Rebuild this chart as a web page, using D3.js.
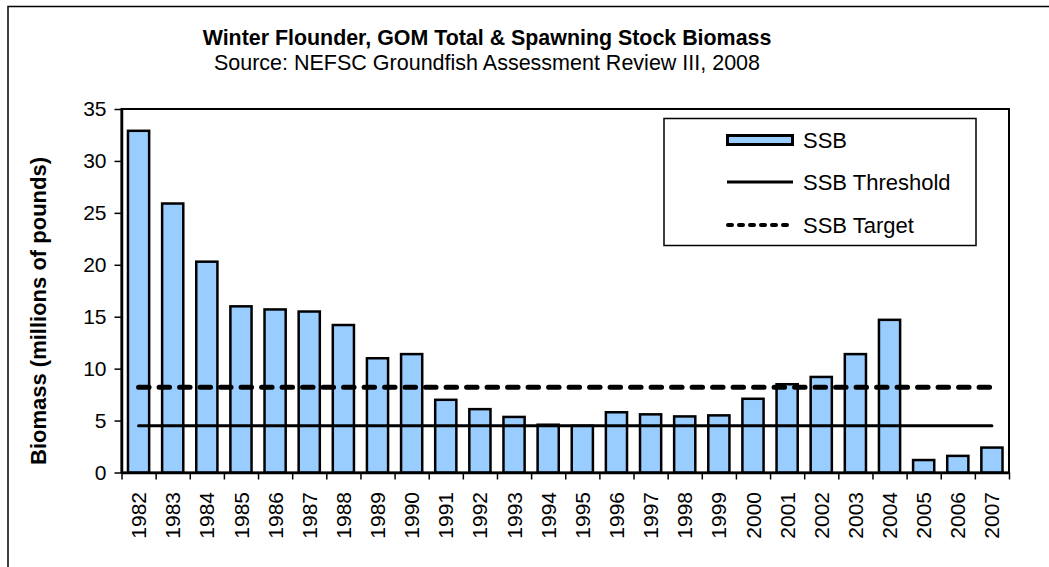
<!DOCTYPE html>
<html><head><meta charset="utf-8">
<script src="https://cdn.jsdelivr.net/npm/d3@7"></script>
<style>body{margin:0;background:#fff}svg{display:block;font-family:Arial,"Liberation Sans",sans-serif}</style>
</head><body><svg id="c" width="1049" height="567"></svg>
<script>
const years = ["1982","1983","1984","1985","1986","1987","1988","1989","1990","1991","1992","1993","1994","1995","1996","1997","1998","1999","2000","2001","2002","2003","2004","2005","2006","2007"];
const ssb = [32.9,25.9,20.3,16.0,15.7,15.5,14.2,11.0,11.4,7.0,6.1,5.35,4.6,4.5,5.8,5.6,5.4,5.5,7.1,8.5,9.2,11.4,14.7,1.2,1.6,2.4];
const threshold = 4.5;
const target = 8.2;
const yTicks = [0,5,10,15,20,25,30,35];
const titleText = "Winter Flounder, GOM Total & Spawning Stock Biomass";
const subtitleText = "Source: NEFSC Groundfish Assessment Review III, 2008";
const yTitle = "Biomass (millions of pounds)";
const legendLabels = ["SSB","SSB Threshold","SSB Target"];

const svg = d3.select("#c");
const m = {left:121.5, right:1009, top:109, bottom:472.5};
const x = d3.scaleBand().domain(years).range([m.left, m.right]).paddingInner(0.38).paddingOuter(0.19);
const xb = d3.scaleLinear().domain([0, years.length]).range([m.left, m.right]);
const y = d3.scaleLinear().domain([0, 35]).range([m.bottom, m.top]);
const blue = "#99CCFF";

// outer chart frame (right/bottom edges outside the picture)
svg.append("rect").attr("x",8).attr("y",6.5).attr("width",1200).attr("height",800)
  .attr("fill","none").attr("stroke","#000").attr("stroke-width",1.5);

// titles
svg.append("text").attr("x",487).attr("y",45).attr("text-anchor","middle")
  .attr("font-weight","bold").attr("font-size",21.4).text(titleText);
svg.append("text").attr("x",487).attr("y",70).attr("text-anchor","middle")
  .attr("font-size",21.5).text(subtitleText);

// plot frame
svg.append("rect").attr("x",m.left).attr("y",m.top).attr("width",m.right-m.left).attr("height",m.bottom-m.top)
  .attr("fill","none").attr("stroke","#000").attr("stroke-width",2);

// bars
svg.append("g").selectAll("rect").data(years).join("rect")
  .attr("x", d => x(d)).attr("width", x.bandwidth())
  .attr("y", (d,i) => y(ssb[i])).attr("height", (d,i) => y(0) - y(ssb[i]))
  .attr("fill", blue).attr("stroke","#000").attr("stroke-width",2.5);

// reference lines
const cx = d => x(d) + x.bandwidth()/2;
const line = d3.line().x(d => cx(d[0])).y(d => y(d[1]));
const ends = [years[0], years[years.length-1]];
svg.append("path").attr("d", line(ends.map(d => [d, threshold])))
  .attr("stroke","#000").attr("stroke-width",3).attr("fill","none").attr("stroke-linecap","round");
svg.append("path").attr("d", line(ends.map(d => [d, target])))
  .attr("stroke","#000").attr("stroke-width",5).attr("fill","none")
  .attr("stroke-linecap","round").attr("stroke-dasharray","10.5,10");

// y axis
const ya = svg.append("g").attr("transform",`translate(${m.left},0)`)
  .call(d3.axisLeft(y).tickValues(yTicks).tickSize(7).tickPadding(8).tickSizeOuter(0));
ya.select(".domain").attr("stroke-width",2.5);
ya.selectAll(".tick line").attr("stroke-width",1.5);
ya.selectAll("text").attr("font-size",21).attr("font-family","Arial, 'Liberation Sans', sans-serif").attr("fill","#000");

// x axis ticks at category boundaries
const xa = svg.append("g").attr("transform",`translate(0,${m.bottom})`)
  .call(d3.axisBottom(xb).tickValues(d3.range(years.length+1)).tickSize(7).tickFormat("").tickSizeOuter(0));
xa.select(".domain").attr("stroke-width",2.5);
xa.selectAll(".tick line").attr("stroke-width",1.5);

// x labels
svg.append("g").selectAll("text").data(years).join("text")
  .attr("transform", d => `translate(${cx(d)},492) rotate(-90)`)
  .attr("text-anchor","end").attr("dy","0.36em").attr("font-size",21).text(d => d);

// y title
svg.append("text").attr("transform","translate(38,311) rotate(-90)")
  .attr("text-anchor","middle").attr("dy","0.36em").attr("font-weight","bold").attr("font-size",22).text(yTitle);

// legend
const lg = svg.append("g");
lg.append("rect").attr("x",664).attr("y",118.5).attr("width",312).attr("height",127)
  .attr("fill","#fff").attr("stroke","#000").attr("stroke-width",1.5);
lg.append("rect").attr("x",727.5).attr("y",135.5).attr("width",65).attr("height",9)
  .attr("fill",blue).attr("stroke","#000").attr("stroke-width",3);
lg.append("line").attr("x1",727).attr("x2",793).attr("y1",182).attr("y2",182)
  .attr("stroke","#000").attr("stroke-width",3);
lg.append("line").attr("x1",728).attr("x2",793).attr("y1",225).attr("y2",225)
  .attr("stroke","#000").attr("stroke-width",4).attr("stroke-linecap","round").attr("stroke-dasharray","4,7");
const ly = [148, 190, 233];
lg.selectAll("text.l").data(legendLabels).join("text").attr("class","l")
  .attr("x",803).attr("y",(d,i) => ly[i]).attr("font-size",22).text(d => d);
</script></body></html>
